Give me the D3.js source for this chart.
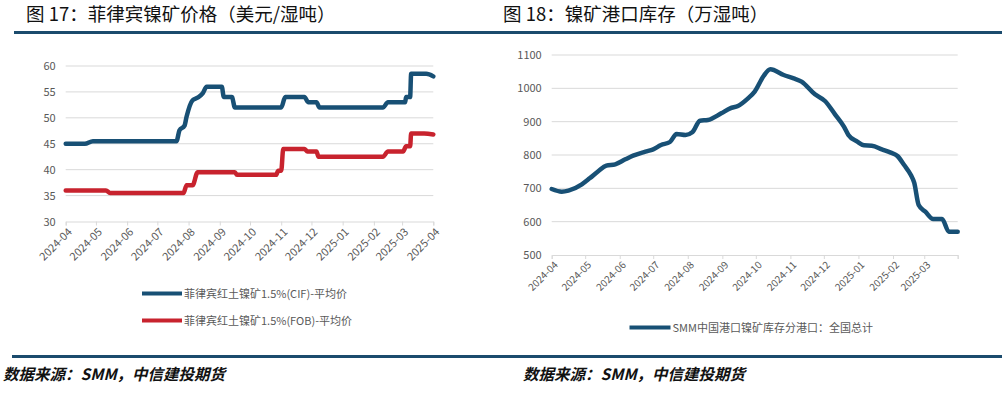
<!DOCTYPE html>
<html>
<head>
<meta charset="utf-8">
<script src="https://cdn.jsdelivr.net/npm/d3@7"></script>
<style>
  body { margin: 0; background: #fff; }
  svg { display: block; }
  text { font-family: "Noto Sans CJK SC", "Noto Sans", sans-serif; }
</style>
</head>
<body>
<div id="chart"></div>
<script>
// left chart: Philippine nickel ore price (USD/wet ton)
var cifDates = ["2024-04-01","2024-04-20","2024-04-28","2024-07-20","2024-07-23","2024-07-28","2024-07-30","2024-08-05","2024-08-10","2024-08-15","2024-08-19","2024-09-03","2024-09-05","2024-09-13","2024-09-16","2024-11-01","2024-11-05","2024-11-24","2024-11-28","2024-12-06","2024-12-09","2025-02-10","2025-02-15","2025-03-04","2025-03-05","2025-03-09","2025-03-10","2025-03-25","2025-04-01"];
var cifValues = [45,45,45.5,45.5,47.6,48.5,50.2,53.4,53.9,54.7,56,56,54,54,52,52,54,54,53,53,52,52,53,53,54,54,58.5,58.5,58];
var fobDates = ["2024-04-01","2024-05-11","2024-05-15","2024-07-27","2024-07-30","2024-08-05","2024-08-10","2024-09-16","2024-09-18","2024-10-27","2024-10-29","2024-11-01","2024-11-03","2024-11-24","2024-11-27","2024-12-06","2024-12-08","2025-02-10","2025-02-15","2025-03-02","2025-03-05","2025-03-09","2025-03-10","2025-03-23","2025-04-01"];
var fobValues = [36,36,35.5,35.5,37,37,39.5,39.5,39,39,39.8,39.8,44,44,43.5,43.5,42.5,42.5,43.5,43.5,44.5,44.5,47,47,46.8];
var leftTicks = [30,35,40,45,50,55,60];
var leftNames = ["菲律宾红土镍矿1.5%(CIF)-平均价","菲律宾红土镍矿1.5%(FOB)-平均价"];

// right chart: nickel ore port inventory (10k wet ton)
var stockDates = ["2024-04-01","2024-04-10","2024-04-16","2024-04-28","2024-05-05","2024-05-13","2024-05-20","2024-05-28","2024-06-06","2024-06-13","2024-06-24","2024-07-01","2024-07-08","2024-07-16","2024-07-22","2024-07-30","2024-08-05","2024-08-12","2024-08-19","2024-08-31","2024-09-08","2024-09-15","2024-09-24","2024-09-30","2024-10-08","2024-10-14","2024-10-26","2024-11-04","2024-11-11","2024-11-23","2024-12-02","2024-12-11","2024-12-19","2024-12-23","2024-12-31","2025-01-06","2025-01-13","2025-01-22","2025-01-30","2025-02-05","2025-02-11","2025-02-17","2025-02-20","2025-02-24","2025-03-02","2025-03-09","2025-03-17","2025-03-23","2025-03-31"];
var stockValues = [698,690,693,712,730,752,768,772,787,798,810,817,830,839,863,860,868,903,905,925,940,947,970,990,1037,1057,1040,1030,1020,982,962,922,885,860,840,829,828,817,807,797,770,740,717,650,630,608,608,570,570];
var rightTicks = [500,600,700,800,900,1000,1100];
var rightName = "SMM中国港口镍矿库存分港口：全国总计";

var parse = d3.timeParse("%Y-%m-%d");
var fmt = d3.timeFormat("%Y-%m");
var blue = "#185075", red = "#c8232e", bar = "#1b4b6d", grid = "#d9d9d9", label = "#595959";

var svg = d3.select("#chart").append("svg")
    .attr("width", 1006)
    .attr("height", 394);

// titles and rules
svg.append("text").attr("x", 26).attr("y", 21)
    .attr("font-size", 18.5).attr("fill", "#111")
    .text("图 17：菲律宾镍矿价格（美元/湿吨）");
svg.append("text").attr("x", 503).attr("y", 21)
    .attr("font-size", 18.5).attr("fill", "#111")
    .text("图 18：镍矿港口库存（万湿吨）");
svg.append("rect").attr("x", 14).attr("y", 31).attr("width", 988).attr("height", 3).attr("fill", bar);
svg.append("rect").attr("x", 12).attr("y", 355).attr("width", 990).attr("height", 3).attr("fill", bar);
svg.append("text").attr("x", 3).attr("y", 380)
    .attr("font-size", 15.5).attr("font-style", "italic").attr("font-weight", "bold").attr("fill", "#111")
    .text("数据来源：SMM，中信建投期货");
svg.append("text").attr("x", 523).attr("y", 380)
    .attr("font-size", 15.5).attr("font-style", "italic").attr("font-weight", "bold").attr("fill", "#111")
    .text("数据来源：SMM，中信建投期货");

function drawPanel(opt) {
    var g = svg.append("g");
    var x = d3.scaleTime().domain(opt.xDomain).range(opt.xRange);
    var y = d3.scaleLinear().domain(opt.yDomain).range(opt.yRange);

    // gridlines
    g.selectAll(".grid").data(opt.yTicks.slice(1)).enter().append("line")
        .attr("x1", opt.xRange[0]).attr("x2", opt.xRange[1])
        .attr("y1", function(d) { return y(d); }).attr("y2", function(d) { return y(d); })
        .attr("stroke", grid).attr("stroke-width", 1);

    // y axis labels
    var ya = g.append("g").attr("transform", "translate(" + opt.xRange[0] + ",0)")
        .call(d3.axisLeft(y).tickValues(opt.yTicks).tickSize(0).tickPadding(opt.yPad)
            .tickFormat(d3.format("d")));
    ya.select(".domain").remove();
    ya.selectAll("text").attr("fill", label).attr("font-size", 11)
        .attr("font-family", "'Open Sans', 'Noto Sans', sans-serif");

    // x axis
    var xa = g.append("g").attr("transform", "translate(0," + opt.yRange[0] + ")")
        .call(d3.axisBottom(x).tickValues(opt.xTicks).tickSize(4)
            .tickFormat(function(d, i) { return i < opt.nLabels ? fmt(d) : ""; }));
    xa.select(".domain").attr("stroke", grid);
    xa.selectAll(".tick line").attr("stroke", grid);
    xa.selectAll("text")
        .attr("fill", label).attr("font-size", opt.xFont)
        .attr("font-family", "'Open Sans', 'Noto Sans', sans-serif")
        .attr("text-anchor", "end")
        .attr("transform", "rotate(-45)")
        .attr("dx", "-0.3em").attr("dy", "0.5em");

    // series lines
    var line = d3.line()
        .x(function(d) { return x(d[0]); })
        .y(function(d) { return y(d[1]); })
        .curve(d3.curveMonotoneX);
    opt.series.forEach(function(s) {
        var pts = s.dates.map(function(d, i) { return [parse(d), s.values[i]]; });
        g.append("path").datum(pts)
            .attr("d", line)
            .attr("fill", "none")
            .attr("stroke", s.color)
            .attr("stroke-width", 4.5)
            .attr("stroke-linejoin", "round")
            .attr("stroke-linecap", "round");
    });

    // legend
    opt.series.forEach(function(s, i) {
        var ly = opt.legend[1] + i * 27;
        g.append("line")
            .attr("x1", opt.legend[0]).attr("x2", opt.legend[0] + opt.legendLen)
            .attr("y1", ly).attr("y2", ly)
            .attr("stroke", s.color).attr("stroke-width", 4);
        g.append("text")
            .attr("x", opt.legend[0] + opt.legendLen + 2).attr("y", ly + 4)
            .attr("font-size", 11).attr("fill", label)
            .text(s.name);
    });
}

drawPanel({
    xDomain: [parse("2024-04-01"), parse("2025-04-01")],
    xRange: [65.7, 433.3],
    yDomain: [30, 60],
    yRange: [221.5, 66],
    yTicks: leftTicks,
    yPad: 10,
    xTicks: d3.timeMonth.range(parse("2024-04-01"), parse("2025-04-02")),
    nLabels: 13,
    xFont: 11,
    legend: [142, 293.5],
    legendLen: 40,
    series: [
        {dates: cifDates, values: cifValues, color: blue, name: leftNames[0]},
        {dates: fobDates, values: fobValues, color: red, name: leftNames[1]}
    ]
});

drawPanel({
    xDomain: [parse("2024-04-01"), parse("2025-03-31")],
    xRange: [551.7, 957.7],
    yDomain: [500, 1100],
    yRange: [255, 55],
    yTicks: rightTicks,
    yPad: 10,
    xTicks: d3.timeMonth.range(parse("2024-04-01"), parse("2025-03-02")).concat([parse("2025-03-31")]),
    nLabels: 12,
    xFont: 10,
    legend: [629.5, 327.5],
    legendLen: 41,
    series: [
        {dates: stockDates, values: stockValues, color: blue, name: rightName}
    ]
});
</script>
</body>
</html>
